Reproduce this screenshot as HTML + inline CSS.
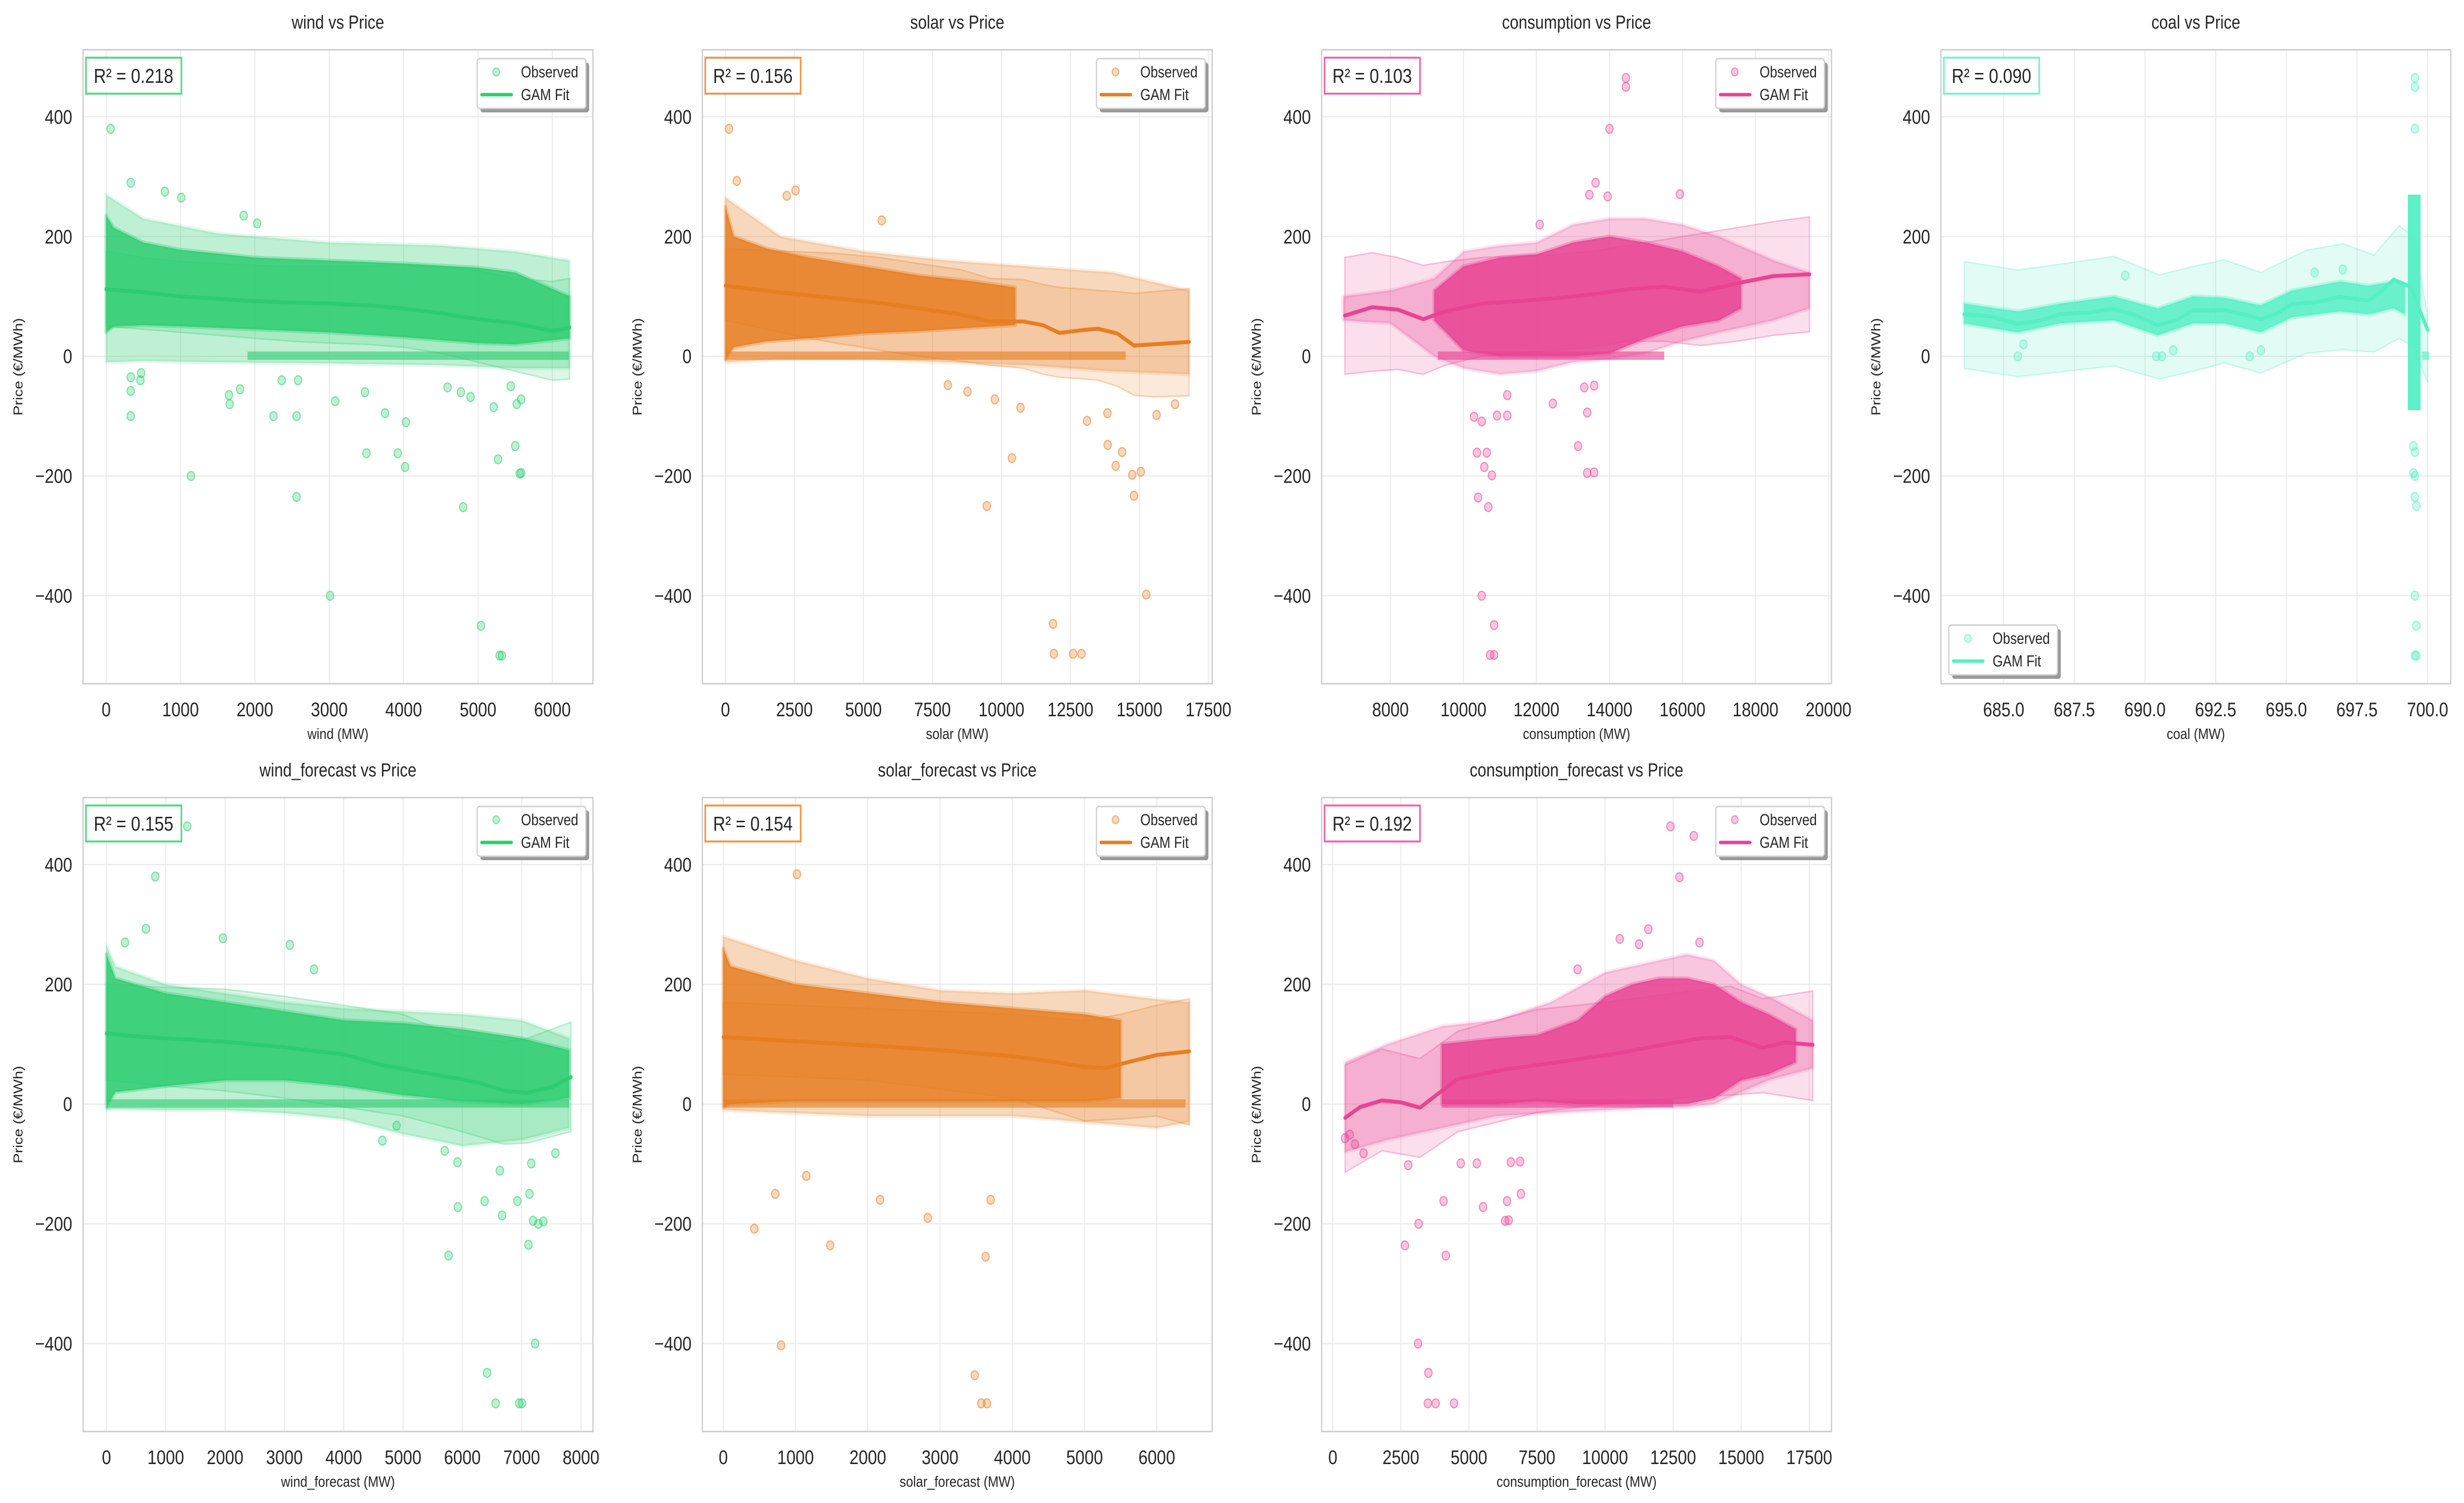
<!DOCTYPE html>
<html><head><meta charset="utf-8"><style>
html,body{margin:0;padding:0;background:#fff;width:100vw;height:100vh;overflow:hidden;}
svg{display:block;width:100vw;height:100vh;font-family:"Liberation Sans",Arial,sans-serif;}
</style></head><body>
<svg id="fig" xmlns="http://www.w3.org/2000/svg" viewBox="0 0 5964 3049" preserveAspectRatio="none"></svg>
<script>
// ---------- DATA ----------
const yTicks = [-400, -200, 0, 200, 400];
const yDomain = [-547, 512];

// wind
const windXTicks = [0,1000,2000,3000,4000,5000,6000];
const windFitX = [0,500,1000,1500,2000,2500,3000,3500,4000,4500,5000,5500,6000,6230];
const windFitY = [112,107,100,96,92,90,88,85,80,72,62,55,42,48];
const windCiHi = [175,165,158,155,152,150,150,150,152,150,143,130,125,130];
const windCiLo = [50,45,40,35,30,25,22,20,15,5,-10,-25,-40,-38];
const windCoreX = [0,100,500,1000,2000,3000,4000,5000,5500,6230];
const windCoreHi = [235,215,190,178,165,160,155,148,140,100];
const windCoreLo = [40,50,52,50,45,40,32,22,20,30];
const windOuterX = [0,500,1500,3000,4500,5500,6230];
const windOuterHi = [270,230,205,190,185,175,160];
const windOuterLo = [-10,-8,-10,-12,-15,-20,-20];
const windZero = [1900, 6220];
const windOutX = [60,200,330,790,1010,1850,2030,330,330,330,1650,1660,2250,1800,2560,2560,1140,3010,3080,3500,3750,3920,4030,4020,4800,5040,5290,5320,5270,5500,5580,5560,5210,5580,5520,5440,4590,4770,4900,2360,2580,3480,460,470];
const windOutY = [380,452,290,275,265,235,222,-35,-58,-100,-65,-80,-100,-55,-100,-235,-200,-400,-75,-162,-95,-162,-110,-185,-252,-450,-500,-500,-172,-150,-195,-196,-85,-72,-80,-50,-52,-60,-68,-40,-40,-60,-40,-28];

// solar
const solarXTicks = [0,2500,5000,7500,10000,12500,15000,17500];
const solarFitX = [0,1000,2500,4000,5600,7000,8500,9600,10800,11500,12100,13000,13500,14200,14800,15500,16800];
const solarFitY = [118,112,104,97,89,80,70,58,58,52,39,44,46,38,18,20,24];
const solarCiHi = [180,178,175,172,165,155,145,130,128,120,115,112,110,108,105,108,113];
const solarCiLo = [60,50,35,22,10,0,-8,-15,-20,-30,-35,-38,-40,-50,-65,-68,-66];
const solarCoreX = [0,300,1500,3000,5000,7000,9000,10500];
const solarCoreHi = [250,200,180,165,150,135,125,115];
const solarCoreLo = [-5,15,25,30,38,42,48,52];
const solarOuterX = [0,2000,5000,8000,11000,14000,16800];
const solarOuterHi = [265,200,175,160,150,140,110];
const solarOuterLo = [-10,-5,-5,-10,-15,-25,-30];
const solarZero = [0, 14500];
const solarOutX = [0,130,410,2220,2540,5660,8060,8770,9760,10380,9470,11870,11900,12600,12900,15250,13100,13840,13850,14140,14370,14740,15050,14800,15620,16290,10690];
const solarOutY = [450,380,293,268,277,227,-48,-59,-72,-170,-250,-447,-497,-497,-497,-398,-108,-95,-148,-183,-160,-198,-193,-233,-98,-80,-86];

// consumption
const consXTicks = [8000,10000,12000,14000,16000,18000,20000];
const consFitX = [6750,7500,8200,8900,9500,10500,11500,12500,13500,14500,15500,16500,17500,18500,19480];
const consFitY = [68,82,78,62,75,88,92,97,103,112,116,108,122,134,137];
const consCiHi = [165,173,165,152,158,165,168,170,175,185,195,205,215,225,233];
const consCiLo = [-30,-25,-22,-30,-15,0,5,10,15,25,25,18,25,35,41];
const consCoreX = [9200,10000,11000,12000,13000,14000,15000,16000,17000,17600];
const consCoreHi = [110,150,165,170,190,200,190,175,150,130];
const consCoreLo = [60,10,0,0,0,5,30,50,60,80];
const consOuterX = [6700,8000,9200,10000,11000,12000,13000,14000,15000,16000,17000,18500,19480];
const consOuterHi = [100,110,130,175,185,190,220,230,230,220,200,160,140];
const consOuterLo = [60,55,0,-20,-30,-25,-10,-5,5,25,40,60,80];
const consZero = [9300, 15500];
const consOutX = [14450,14450,14000,13620,13450,10290,10500,10370,10640,10570,10780,10400,10680,10500,10840,10730,10840,13140,13390,13580,13390,10920,11200,12450,13580,13310,11200,12090,13950,15930];
const consOutY = [465,450,380,290,270,-101,-109,-161,-161,-185,-199,-236,-252,-400,-449,-499,-499,-150,-195,-194,-94,-99,-99,-79,-49,-52,-65,220,267,271];

// coal
const coalXTicks = [685,687.5,690,692.5,695,697.5,700];
const coalFitX = [683.6,684.5,685.5,686.3,687,688,688.9,689.7,690.45,691.1,691.7,692.8,693.5,694.1,694.7,695.2,696,696.9,697.9,698.4,698.8,699.4,700];
const coalFitY = [70,67,54,60,70,73,79,68,52,60,77,77,70,62,72,87,90,99,93,110,128,116,44];
const coalCiX = [683.6,685.5,687.2,688.9,690.5,691.7,692.8,694.1,695.7,697,698.1,699,699.5,700];
const coalCiHi = [158,144,155,167,136,150,161,140,177,188,169,218,200,70];
const coalCiLo = [-20,-34,-25,-16,-38,-25,-11,-28,5,11,7,30,15,-44];
const coalCoreX = [683.6,685.5,687,688.9,690.45,691.7,692.8,694.1,695.2,696.9,697.9,698.8,699.2];
const coalCoreHi = [88,75,88,100,80,100,98,85,110,125,118,125,120];
const coalCoreLo = [55,40,55,60,35,55,55,40,65,75,70,80,70];
const coalStripX = [699.3,699.75];
const coalStripY = [-90,270];
const coalZero = [699.8, 700.05];
const coalOutX = [699.55,699.55,699.55,699.5,699.55,699.5,699.55,699.55,699.6,699.55,699.6,699.55,699.6,685.5,690.4,690.6,691,693.7,694.1,685.7,689.3,696,697];
const coalOutY = [465,450,380,-150,-160,-195,-200,-235,-250,-400,-450,-500,-500,0,0,0,10,0,10,20,135,140,145];

// wind_forecast
const wfXTicks = [0,1000,2000,3000,4000,5000,6000,7000,8000];
const wfFitX = [0,500,1000,2000,3000,4000,4650,5200,5850,6300,6700,7100,7500,7830];
const wfFitY = [118,113,110,104,95,83,65,55,44,35,22,19,28,45];
const wfCiX = [0,1000,2000,3000,4000,5000,5850,6700,7100,7830];
const wfCiHi = [200,195,192,180,165,150,115,104,110,137];
const wfCiLo = [40,30,22,10,-5,-20,-42,-67,-65,-46];
const wfCoreX = [0,150,1000,2000,3000,4000,5000,6000,7000,7800];
const wfCoreHi = [250,210,185,170,155,140,135,125,110,90];
const wfCoreLo = [-5,20,30,40,40,30,15,5,0,10];
const wfOuterX = [0,150,1000,2000,3000,4000,5000,6000,7000,7800];
const wfOuterHi = [265,230,200,185,170,160,155,150,140,110];
const wfOuterLo = [-10,-8,-10,-10,-15,-25,-50,-70,-60,-40];
const wfZero = [0, 7800];
const wfOutX = [132,1362,822,666,1963,3091,3499,312,5768,5924,6375,6669,6927,7131,7113,7191,7281,7365,7227,6417,6561,6957,7005,7161,7569,5918,6633,5702,4652,4892];
const wfOutY = [448,464,380,293,277,266,225,270,-253,-172,-162,-186,-162,-150,-235,-195,-200,-196,-400,-449,-500,-500,-500,-99,-82,-97,-111,-78,-61,-36];

// solar_forecast
const sfXTicks = [0,1000,2000,3000,4000,5000,6000];
const sfFitX = [0,1000,2000,3000,4000,4500,5000,5300,5600,6000,6450];
const sfFitY = [112,105,98,90,80,72,62,60,70,82,88];
const sfCiX = [0,2000,4000,5000,5500,6000,6450];
const sfCiHi = [170,160,150,139,150,165,176];
const sfCiLo = [50,40,10,-28,-25,-20,-35];
const sfCoreX = [0,100,1000,2000,3000,4000,5000,5500];
const sfCoreHi = [260,230,200,185,170,160,150,140];
const sfCoreLo = [-5,0,5,5,5,5,5,10];
const sfOuterX = [0,1000,2000,3000,4000,5000,6000,6450];
const sfOuterHi = [280,240,210,190,185,190,175,170];
const sfOuterLo = [-10,-15,-20,-20,-20,-30,-40,-30];
const sfZero = [0, 6400];
const sfOutX = [1020,800,430,720,1480,2170,2830,3630,3480,3570,3650,1150,3700];
const sfOutY = [384,-403,-208,-150,-236,-160,-190,-255,-453,-500,-500,-120,-160];

// consumption_forecast
const cfXTicks = [0,2500,5000,7500,10000,12500,15000,17500];
const cfFitX = [450,1000,1800,2500,3200,3800,4600,5500,6200,7500,9000,10500,12000,13500,14600,15800,16600,17630];
const cfFitY = [-23,-5,6,3,-6,15,42,50,57,65,75,85,98,110,112,94,103,99];
const cfCiX = [450,1800,3200,4600,7500,10000,12500,14600,15800,17630];
const cfCiHi = [65,92,76,122,158,170,185,197,176,189];
const cfCiLo = [-114,-78,-89,-46,-14,0,10,15,19,6];
const cfCoreX = [4000,5000,6000,7500,9000,10000,11000,12000,13000,14000,15000,16000,17000];
const cfCoreHi = [100,105,110,115,140,180,200,210,210,200,170,150,125];
const cfCoreLo = [0,0,0,5,0,0,0,0,0,10,40,50,70];
const cfOuterX = [450,2000,4000,6000,8000,10000,12000,13000,14000,15000,16000,17630];
const cfOuterHi = [70,100,130,140,170,220,240,250,240,200,180,140];
const cfOuterLo = [-80,-60,-40,-20,-15,-10,-5,-5,0,20,40,60];
const cfZero = [4000, 12500];
const cfOutX = [12400,13260,12730,11590,10540,11250,8990,13470,3150,2650,4150,4070,3130,3510,3490,3780,4450,5520,6400,6460,6330,6910,6540,6880,4700,5290,2770,1130,810,620,450];
const cfOutY = [464,448,379,292,276,267,225,270,-200,-236,-253,-162,-400,-449,-500,-500,-500,-172,-162,-194,-195,-150,-97,-96,-99,-99,-102,-82,-67,-51,-57];

// ---------- DRAWING ----------
const NS = "http://www.w3.org/2000/svg";
const svg = document.getElementById('fig');
const PW = 1234, PH = 1286;
function el(tag, attrs, parent, text){
  const e = document.createElementNS(NS, tag);
  for (const k in attrs) e.setAttribute(k, attrs[k]);
  if (text !== undefined) e.textContent = text;
  (parent || svg).appendChild(e);
  return e;
}
function fmt(v, dec){ const s = v.toFixed(dec); return v < 0 ? '\u2212' + s.slice(1) : s; }

function panel(p){
  const L = 201 + p.col*1499, T = 101 + p.row*1517, R = L+PW, B = T+PH;
  const sx = v => L + (v - p.xd[0])/(p.xd[1]-p.xd[0])*PW;
  const sy = v => T + (yDomain[1]-v)/(yDomain[1]-yDomain[0])*PH;
  const g = el('g', {});
  
  
  const clipId = 'clip-' + p.key;
  const cp = el('clipPath', {id: clipId}, g);
  el('rect', {x:L, y:T, width:PW, height:PH}, cp);
  const grid = el('g', {}, g);
  
  
  p.xt.forEach(v => { const x = sx(v); if (x>=L-1 && x<=R+1) el('line',{x1:x,x2:x,y1:T,y2:B,stroke:'#ebebeb','stroke-width':2.5},grid); });
  yTicks.forEach(v => { const y = sy(v); el('line',{x1:L,x2:R,y1:y,y2:y,stroke:'#ebebeb','stroke-width':2.5},grid); });
  const plot = el('g', {'clip-path':'url(#'+clipId+')'}, g);
  const ciX = p.ciX || p.fitX;
  let d = ciX.map((x,i)=>(i?'L':'M')+sx(x).toFixed(1)+','+sy(p.ciHi[i]).toFixed(1)).join('');
  for (let i=ciX.length-1;i>=0;i--) d += 'L'+sx(ciX[i]).toFixed(1)+','+sy(p.ciLo[i]).toFixed(1);
  const band = el('path',{d:d+'Z',fill:p.color,'fill-opacity':0.17,stroke:p.color,'stroke-opacity':0.3,'stroke-width':3},plot);
  
  
  function area(xs, hi, lo, op, name){
    let dd = xs.map((x,i)=>(i?'L':'M')+sx(x).toFixed(1)+','+sy(hi[i]).toFixed(1)).join('');
    for (let i=xs.length-1;i>=0;i--) dd += 'L'+sx(xs[i]).toFixed(1)+','+sy(lo[i]).toFixed(1);
    const a = el('path',{d:dd+'Z',fill:p.color,'fill-opacity':op,stroke:p.color,'stroke-opacity':op*0.4,'stroke-width':8,'stroke-linejoin':'round'},plot);
    
    
  }
  if (p.outerX) area(p.outerX, p.outerHi, p.outerLo, 0.3, 'observed-cloud-sparse');
  area(p.coreX, p.coreHi, p.coreLo, 0.85, 'observed-cloud-dense');
  if (p.zero){
    const z = el('rect',{x:sx(p.zero[0]),y:sy(8),width:sx(p.zero[1])-sx(p.zero[0]),height:sy(-6)-sy(8),fill:p.color,'fill-opacity':0.6},plot);
    
    
  }
  if (p.stripX){
    const s = el('rect',{x:sx(p.stripX[0]),y:sy(p.stripY[1]),width:sx(p.stripX[1])-sx(p.stripX[0]),height:sy(p.stripY[0])-sy(p.stripY[1]),fill:p.color,'fill-opacity':0.95},plot);
    
    
  }
  p.outX.forEach((x,i)=>{
    const c = el('circle',{cx:sx(x),cy:sy(p.outY[i]),r:9,fill:p.color,'fill-opacity':0.3,stroke:p.color,'stroke-opacity':0.55,'stroke-width':2.5},plot);
    
    
  });
  const fd = p.fitX.map((x,i)=>(i?'L':'M')+sx(x).toFixed(1)+','+sy(p.fitY[i]).toFixed(1)).join('');
  const fl = el('path',{d:fd,fill:'none',stroke:p.color,'stroke-width':8,'stroke-linejoin':'round','stroke-linecap':'round'},plot);
  
  
  const sp = el('rect',{x:L,y:T,width:PW,height:PH,fill:'none',stroke:'#cccccc','stroke-width':3},g);
  
  
  p.xt.forEach(v => {
    const t = el('text',{x:sx(v),y:B+66,'font-size':40,fill:'#262626','text-anchor':'middle'},g,fmt(v,p.dec));
    
    
  });
  yTicks.forEach(v => {
    const t = el('text',{x:L-26,y:sy(v)+14,'font-size':40,fill:'#262626','text-anchor':'end'},g,fmt(v,0));
    
    
  });
  const ti = el('text',{x:L+PW/2,y:T-43,'font-size':38,fill:'#262626','text-anchor':'middle'},g,p.key+' vs Price');
  
  
  const xl = el('text',{x:L+PW/2,y:B+112,'font-size':31,fill:'#262626','text-anchor':'middle'},g,p.key+' (MW)');
  
  
  const yl = el('text',{x:0,y:0,'font-size':31,fill:'#262626','text-anchor':'middle',transform:'translate('+(L-147)+','+(T+PH/2)+') rotate(-90)'},g,'Price (\u20ac/MWh)');
  
  
  const rb = el('g',{},g);
  
  
  el('rect',{x:L+7,y:T+16,width:p.r2w,height:73,fill:'#fff',stroke:p.color,'stroke-opacity':0.8,'stroke-width':4},rb);
  el('text',{x:L+26,y:T+67,'font-size':41,fill:'#262626'},rb,'R\u00b2 = '+p.r2);
  const lg = el('g',{},g);
  
  
  const lx = p.legLeft ? L+19 : R-280, ly = p.legLeft ? B-119 : T+18;
  el('rect',{x:lx+8,y:ly+8,width:263,height:101,rx:6,fill:'#999'},lg);
  el('rect',{x:lx,y:ly,width:263,height:101,rx:6,fill:'#fff',stroke:'#d0d0d0','stroke-width':3},lg);
  const e1 = el('g',{},lg);
  
  
  el('circle',{cx:lx+46,cy:ly+27,r:8,fill:p.color,'fill-opacity':0.3,stroke:p.color,'stroke-opacity':0.5,'stroke-width':2.5},e1);
  el('text',{x:lx+106,y:ly+38,'font-size':32,fill:'#262626'},e1,'Observed');
  const e2 = el('g',{},lg);
  
  
  el('line',{x1:lx+11,x2:lx+83,y1:ly+73,y2:ly+73,stroke:p.color,'stroke-width':7,'stroke-linecap':'round'},e2);
  el('text',{x:lx+106,y:ly+84,'font-size':32,fill:'#262626'},e2,'GAM Fit');
}

const W='#2ecc71', S='#e67e22', C='#e84393', K='#55efc4';
panel({key:'wind',row:0,col:0,color:W,xd:[-311,6544],xt:windXTicks,dec:0,fitX:windFitX,fitY:windFitY,ciHi:windCiHi,ciLo:windCiLo,coreX:windCoreX,coreHi:windCoreHi,coreLo:windCoreLo,outerX:windOuterX,outerHi:windOuterHi,outerLo:windOuterLo,zero:windZero,outX:windOutX,outY:windOutY,r2:'0.218',r2w:231});
panel({key:'solar',row:0,col:1,color:S,xd:[-837,17635],xt:solarXTicks,dec:0,fitX:solarFitX,fitY:solarFitY,ciHi:solarCiHi,ciLo:solarCiLo,coreX:solarCoreX,coreHi:solarCoreHi,coreLo:solarCoreLo,outerX:solarOuterX,outerHi:solarOuterHi,outerLo:solarOuterLo,zero:solarZero,outX:solarOutX,outY:solarOutY,r2:'0.156',r2w:231});
panel({key:'consumption',row:0,col:2,color:C,xd:[6116,20081],xt:consXTicks,dec:0,fitX:consFitX,fitY:consFitY,ciHi:consCiHi,ciLo:consCiLo,coreX:consCoreX,coreHi:consCoreHi,coreLo:consCoreLo,outerX:consOuterX,outerHi:consOuterHi,outerLo:consOuterLo,zero:consZero,outX:consOutX,outY:consOutY,r2:'0.103',r2w:231});
panel({key:'coal',row:0,col:3,color:K,xd:[682.78,700.82],xt:coalXTicks,dec:1,fitX:coalFitX,fitY:coalFitY,ciX:coalCiX,ciHi:coalCiHi,ciLo:coalCiLo,coreX:coalCoreX,coreHi:coalCoreHi,coreLo:coalCoreLo,stripX:coalStripX,stripY:coalStripY,zero:coalZero,outX:coalOutX,outY:coalOutY,r2:'0.090',r2w:231,legLeft:true});
panel({key:'wind_forecast',row:1,col:0,color:W,xd:[-395,8200],xt:wfXTicks,dec:0,fitX:wfFitX,fitY:wfFitY,ciX:wfCiX,ciHi:wfCiHi,ciLo:wfCiLo,coreX:wfCoreX,coreHi:wfCoreHi,coreLo:wfCoreLo,outerX:wfOuterX,outerHi:wfOuterHi,outerLo:wfOuterLo,zero:wfZero,outX:wfOutX,outY:wfOutY,r2:'0.155',r2w:231});
panel({key:'solar_forecast',row:1,col:1,color:S,xd:[-290,6766],xt:sfXTicks,dec:0,fitX:sfFitX,fitY:sfFitY,ciX:sfCiX,ciHi:sfCiHi,ciLo:sfCiLo,coreX:sfCoreX,coreHi:sfCoreHi,coreLo:sfCoreLo,outerX:sfOuterX,outerHi:sfOuterHi,outerLo:sfOuterLo,zero:sfZero,outX:sfOutX,outY:sfOutY,r2:'0.154',r2w:231});
panel({key:'consumption_forecast',row:1,col:2,color:C,xd:[-410,18316],xt:cfXTicks,dec:0,fitX:cfFitX,fitY:cfFitY,ciX:cfCiX,ciHi:cfCiHi,ciLo:cfCiLo,coreX:cfCoreX,coreHi:cfCoreHi,coreLo:cfCoreLo,outerX:cfOuterX,outerHi:cfOuterHi,outerLo:cfOuterLo,zero:cfZero,outX:cfOutX,outY:cfOutY,r2:'0.192',r2w:231});
</script>
</body></html>
